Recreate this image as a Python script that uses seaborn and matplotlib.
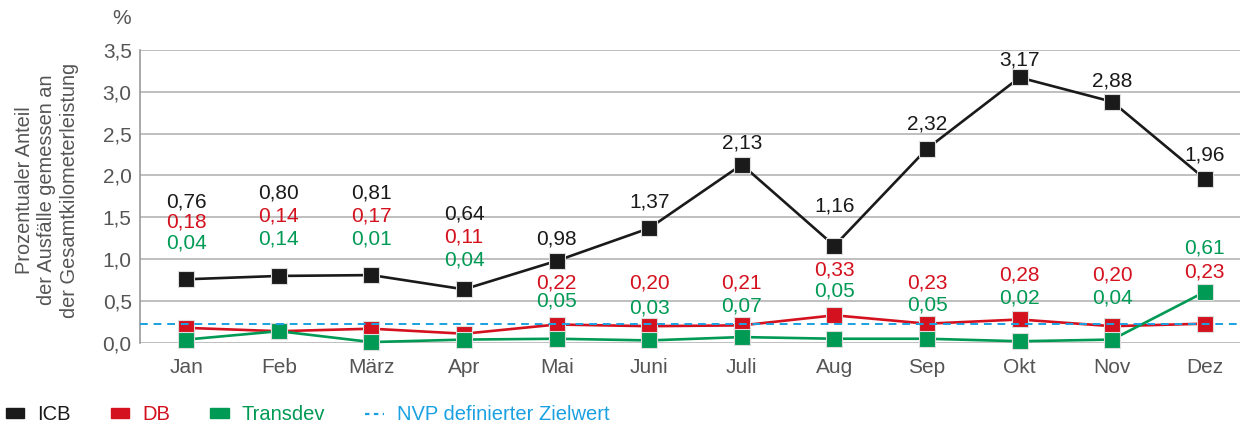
import matplotlib
matplotlib.use("Agg")
import matplotlib.pyplot as plt
import matplotlib.ticker as mticker
from matplotlib.lines import Line2D
from matplotlib.patches import Patch
import pandas as pd
import seaborn as sns

months = ["Jan", "Feb", "März", "Apr", "Mai", "Juni", "Juli", "Aug", "Sep", "Okt", "Nov", "Dez"]
icb = [0.76, 0.80, 0.81, 0.64, 0.98, 1.37, 2.13, 1.16, 2.32, 3.17, 2.88, 1.96]
db = [0.18, 0.14, 0.17, 0.11, 0.22, 0.20, 0.21, 0.33, 0.23, 0.28, 0.20, 0.23]
transdev = [0.04, 0.14, 0.01, 0.04, 0.05, 0.03, 0.07, 0.05, 0.05, 0.02, 0.04, 0.61]
zielwert = 0.23

colors = {"ICB": "#1a1a1a", "DB": "#d4111e", "Transdev": "#009a55"}
blue = "#1ba1e2"

# label heights (data units) for the value annotations
lab_icb = [1.68, 1.79, 1.79, 1.54, 1.24, 1.68, 2.39, 1.63, 2.62, 3.38, 3.13, 2.25]
lab_db = [1.45, 1.52, 1.52, 1.27, 0.72, 0.72, 0.72, 0.87, 0.72, 0.81, 0.81, 0.85]
lab_td = [1.19, 1.24, 1.24, 0.99, 0.50, 0.42, 0.44, 0.62, 0.45, 0.54, 0.54, 1.13]

df = pd.DataFrame({
    "x": list(range(12)) * 3,
    "wert": icb + db + transdev,
    "serie": ["ICB"] * 12 + ["DB"] * 12 + ["Transdev"] * 12,
})

sns.set_theme(style="white")
plt.rcParams["font.family"] = ["Liberation Sans", "DejaVu Sans"]

fig = plt.figure(figsize=(12.43, 4.26), dpi=100)
ax = fig.add_axes([0.1126, 0.195, 0.885, 0.688])

ax.yaxis.grid(True, color="#b4b4b4", lw=1.2)
ax.set_axisbelow(True)

sns.lineplot(data=df, x="x", y="wert", hue="serie", hue_order=["ICB", "DB", "Transdev"],
             palette=colors, marker="s", markersize=11.5, markeredgecolor="#dddddd",
             markeredgewidth=0.8, lw=1.9, legend=False, ax=ax)
for ln in ax.lines:
    ln.set_clip_on(False)

ax.axhline(zielwert, color=blue, ls=(0, (4, 3)), lw=1.4, zorder=5)

for i in range(12):
    ax.text(i, lab_icb[i], f"{icb[i]:.2f}".replace(".", ","), color=colors["ICB"],
            ha="center", va="center", fontsize=15)
    ax.text(i, lab_db[i], f"{db[i]:.2f}".replace(".", ","), color=colors["DB"],
            ha="center", va="center", fontsize=15)
    ax.text(i, lab_td[i], f"{transdev[i]:.2f}".replace(".", ","), color=colors["Transdev"],
            ha="center", va="center", fontsize=15)

ax.set_xlim(-0.5, 11.38)
ax.set_ylim(0, 3.5)
ax.set_xticks(range(12))
ax.set_xticklabels(months)
ax.set_yticks([0, 0.5, 1, 1.5, 2, 2.5, 3, 3.5])
ax.yaxis.set_major_formatter(mticker.FuncFormatter(lambda v, p: f"{v:.1f}".replace(".", ",")))
ax.tick_params(axis="x", labelsize=15, labelcolor="#555555", length=0, pad=11)
ax.tick_params(axis="y", labelsize=15, labelcolor="#555555", length=0, pad=6)
ax.set_xlabel("")
ax.set_ylabel("")
for s in ["top", "right", "bottom"]:
    ax.spines[s].set_visible(False)
ax.spines["left"].set_color("#999999")
ax.spines["left"].set_linewidth(1.2)

fig.text(47 / 1243, 1 - 190 / 426,
         "Prozentualer Anteil\nder Ausfälle gemessen an\nder Gesamtkilometerleistung",
         rotation=90, ha="center", va="center", multialignment="center",
         fontsize=14.4, color="#555555", linespacing=1.22)

fig.text(112 / 1243, 1 - 19 / 426, "%", fontsize=15, color="#555555", ha="left", va="center")

handles = [Patch(color=colors["ICB"]), Patch(color=colors["DB"]), Patch(color=colors["Transdev"]),
           Line2D([0], [0], color=blue, ls=(0, (2, 2)), lw=1.6)]
leg = fig.legend(handles, ["ICB", "DB", "Transdev", "NVP definierter Zielwert"],
                 loc="center left", bbox_to_anchor=(0.0, 1 - 415 / 426), ncol=4, frameon=False,
                 fontsize=14.5, handlelength=0.9, handleheight=0.4, columnspacing=2.0,
                 handletextpad=0.65, borderaxespad=0.0, borderpad=0.3)
for txt, c in zip(leg.get_texts(), [colors["ICB"], colors["DB"], colors["Transdev"], blue]):
    txt.set_color(c)

fig.savefig("out.png", dpi=100)
